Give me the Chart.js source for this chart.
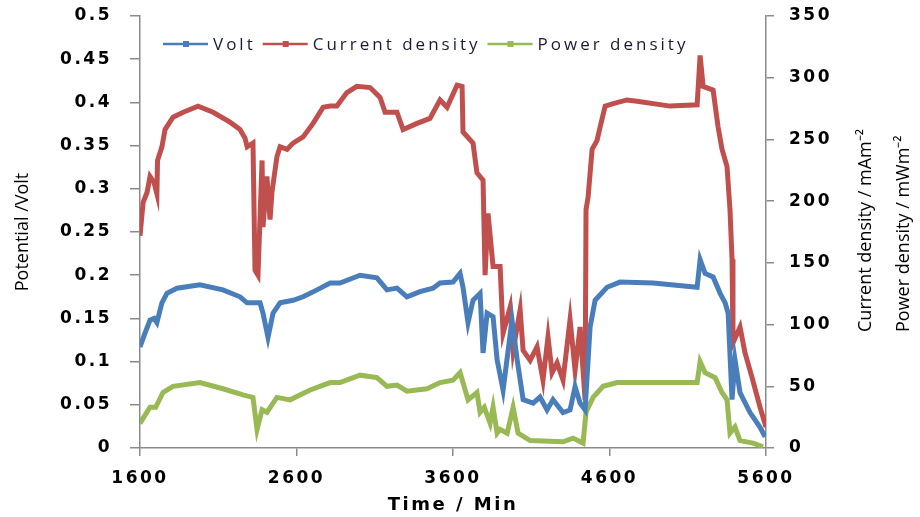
<!DOCTYPE html>
<html><head><meta charset="utf-8">
<script src="https://cdn.jsdelivr.net/npm/chart.js@4.4.0/dist/chart.umd.min.js"></script>
<style>html,body{margin:0;padding:0;background:#fff;overflow:hidden}</style>
</head><body>
<canvas id="c" width="920" height="517"></canvas>
<script>
// ---- data ----
const voltTime = [1600,1632,1664,1690,1708,1740,1772,1836,1983,2130,2239,2284,2367,2386,2418,2450,2495,2578,2642,2731,2815,2878,3006,3114,3178,3242,3306,3389,3472,3517,3600,3645,3664,3696,3728,3773,3792,3818,3856,3882,3920,3977,4010,4048,4112,4156,4201,4239,4303,4348,4380,4412,4444,4476,4508,4584,4667,4878,5160,5179,5211,5262,5307,5339,5358,5383,5402,5434,5498,5562,5594];
const voltValues = [0.117,0.133,0.148,0.150,0.145,0.168,0.179,0.185,0.189,0.183,0.175,0.168,0.168,0.156,0.128,0.156,0.168,0.171,0.175,0.183,0.191,0.191,0.200,0.197,0.183,0.185,0.175,0.181,0.185,0.191,0.192,0.202,0.186,0.145,0.171,0.179,0.110,0.156,0.152,0.102,0.067,0.148,0.102,0.056,0.052,0.059,0.044,0.056,0.041,0.044,0.071,0.052,0.044,0.140,0.171,0.186,0.192,0.191,0.186,0.218,0.202,0.198,0.179,0.168,0.156,0.056,0.102,0.064,0.041,0.024,0.013];

const currentTime = [1600,1620,1645,1664,1690,1708,1712,1740,1760,1811,1876,1971,2067,2175,2239,2271,2285,2322,2335,2354,2380,2386,2411,2431,2443,2475,2495,2540,2578,2642,2706,2770,2815,2858,2922,2986,3070,3134,3166,3242,3281,3370,3453,3517,3562,3626,3658,3664,3728,3753,3792,3805,3824,3856,3882,3901,3920,3965,3984,4029,4048,4093,4137,4175,4207,4233,4265,4303,4348,4380,4412,4444,4450,4463,4489,4520,4540,4572,4623,4712,4776,4987,5160,5179,5198,5262,5294,5319,5351,5370,5383,5389,5434,5466,5511,5562,5600];
const currentValues = [172,199,207,220,215,206,233,244,258,268,272,277,272,264,258,251,244,247,144,140,233,179,220,185,207,236,244,242,247,252,263,276,277,277,288,293,292,284,272,272,258,263,267,282,276,294,293,256,247,223,217,140,190,147,147,147,93,114,79,112,79,71,82,55,90,61,69,55,104,63,98,39,193,203,242,249,260,277,279,282,281,277,278,318,293,290,260,242,228,193,153,85,98,77,57,33,17];

const powerTime = [1600,1664,1700,1747,1811,1983,2130,2258,2322,2348,2380,2411,2475,2559,2687,2815,2878,3006,3114,3178,3242,3306,3434,3517,3600,3645,3664,3696,3753,3773,3800,3837,3856,3882,3901,3946,3984,4016,4093,4303,4367,4431,4450,4495,4559,4648,5160,5179,5211,5275,5319,5351,5370,5402,5434,5517,5581];
const powerValues = [20,33,33,45,50,53,48,43,41,15,31,29,41,39,47,53,53,59,57,50,51,46,48,53,55,61,53,39,45,29,33,20,33,12,15,12,33,12,6,5,8,4,29,41,50,53,53,70,61,57,45,39,12,17,6,4,1];

const seriesLabels = ['Volt', 'Current density', 'Power density'];
const xTicks = [1600, 2600, 3600, 4600, 5600];
const leftTicks = [0, 0.05, 0.1, 0.15, 0.2, 0.25, 0.3, 0.35, 0.4, 0.45, 0.5];
const rightTicks = [0, 50, 100, 150, 200, 250, 300, 350];
const xTitle = 'Time / Min';
const leftTitle = 'Potential /Volt';
const rightTitles = ['Current density / mAm\u207B\u00B2', 'Power density / mWm\u207B\u00B2'];

// ---- helpers ----
const pts = (t, v) => t.map((x, i) => ({x, y: v[i]}));
const AXIS = '#8a8a8a';
const tickFont = {family: '"DejaVu Sans", Verdana, sans-serif', size: 17, weight: 'bold'};
const noPad = s => { s.paddingTop = 0; s.paddingBottom = 0; s.paddingLeft = 0; s.paddingRight = 0; };

// wide lettering for the bold axis text, as in the reference
const spacing = {
  id: 'spacing',
  beforeDraw(chart) { chart.ctx.letterSpacing = '2.5px'; },
  beforeDatasetsDraw(chart) { chart.ctx.letterSpacing = '0px'; },
  afterDatasetsDraw(chart) { chart.ctx.letterSpacing = '2.5px'; },
  afterDraw(chart) { chart.ctx.letterSpacing = '0px'; }
};

const insideLegend = {
  id: 'insideLegend',
  afterDraw(chart) {
    const ctx = chart.ctx, area = chart.chartArea;
    ctx.save();
    ctx.font = '17px "Open Sans", sans-serif';
    ctx.letterSpacing = '3px';
    ctx.textBaseline = 'middle';
    let x = area.left + 23;
    const y = area.top + 28;
    chart.data.datasets.forEach((ds, i) => {
      ctx.strokeStyle = ds.borderColor; ctx.lineWidth = 2.5;
      ctx.beginPath(); ctx.moveTo(x, y); ctx.lineTo(x + 45, y); ctx.stroke();
      ctx.fillStyle = ds.borderColor;
      ctx.fillRect(x + 20, y - 3, 6, 6);
      ctx.fillStyle = '#1b1b33';
      ctx.textAlign = 'left';
      ctx.fillText(ds.label, x + 50, y + 1);
      x += 50 + ctx.measureText(ds.label).width + 7;
    });
    ctx.restore();
  }
};

const sideTitles = {
  id: 'sideTitles',
  afterDraw(chart) {
    const ctx = chart.ctx;
    ctx.save();
    ctx.letterSpacing = '0px';
    ctx.font = '18px "Open Sans", sans-serif';
    ctx.fillStyle = '#000';
    ctx.textBaseline = 'middle';
    // left title
    ctx.save();
    ctx.translate(23, 232);
    ctx.rotate(-Math.PI / 2);
    ctx.textAlign = 'center';
    ctx.fillText(leftTitle, 0, 0);
    ctx.restore();
    // right titles
    const xs = [866, 904];
    ctx.textAlign = 'left';
    rightTitles.forEach((t, i) => {
      ctx.save();
      ctx.translate(xs[i], 332);
      ctx.rotate(-Math.PI / 2);
      ctx.fillText(t, 0, 0);
      ctx.restore();
    });
    ctx.restore();
  }
};

new Chart(document.getElementById('c'), {
  type: 'line',
  data: {
    datasets: [
      {label: seriesLabels[0], data: pts(voltTime, voltValues), yAxisID: 'y', borderColor: '#4a7ebb', backgroundColor: '#4a7ebb'},
      {label: seriesLabels[1], data: pts(currentTime, currentValues), yAxisID: 'y1', borderColor: '#c0504d', backgroundColor: '#c0504d'},
      {label: seriesLabels[2], data: pts(powerTime, powerValues), yAxisID: 'y1', borderColor: '#98b954', backgroundColor: '#98b954'}
    ]
  },
  options: {
    responsive: false,
    animation: false,
    devicePixelRatio: 1,
    layout: {padding: {top: 16, left: 0, right: 0, bottom: 0}},
    elements: {
      line: {borderWidth: 5, tension: 0, borderJoinStyle: 'miter', borderCapStyle: 'butt'},
      point: {radius: 0, hoverRadius: 0}
    },
    plugins: {legend: {display: false}, tooltip: {enabled: false}},
    scales: {
      x: {
        type: 'linear', min: 1600, max: 5600,
        afterBuildTicks: s => { s.ticks = xTicks.map(v => ({value: v})); },
        afterFit: s => { s.height = 69; noPad(s); },
        grid: {drawOnChartArea: false, drawTicks: true, tickLength: 8, color: AXIS, lineWidth: 1.5},
        border: {display: true, color: AXIS, width: 1.5},
        ticks: {font: tickFont, color: '#000', padding: 12, maxRotation: 0, autoSkip: false, callback: v => String(v)},
        title: {display: true, text: xTitle, color: '#000', font: {family: '"DejaVu Sans", Verdana, sans-serif', size: 18, weight: 'bold'}, padding: {top: 0, bottom: 1}}
      },
      y: {
        type: 'linear', position: 'left', min: 0, max: 0.5,
        afterBuildTicks: s => { s.ticks = leftTicks.map(v => ({value: v})); },
        afterFit: s => { s.width = 140; noPad(s); },
        grid: {drawOnChartArea: false, drawTicks: true, tickLength: 10, color: AXIS, lineWidth: 1.5},
        border: {display: true, color: AXIS, width: 1.5},
        ticks: {font: tickFont, color: '#000', padding: 18, callback: v => String(Number(v.toFixed(2)))}
      },
      y1: {
        type: 'linear', position: 'right', min: 0, max: 350,
        afterBuildTicks: s => { s.ticks = rightTicks.map(v => ({value: v})); },
        afterFit: s => { s.width = 154; noPad(s); },
        grid: {drawOnChartArea: false, drawTicks: true, tickLength: 8, color: AXIS, lineWidth: 1.5},
        border: {display: true, color: AXIS, width: 1.5},
        ticks: {font: tickFont, color: '#000', padding: 15, callback: v => String(v)}
      }
    }
  },
  plugins: [spacing, insideLegend, sideTitles]
});
</script>
</body></html>
